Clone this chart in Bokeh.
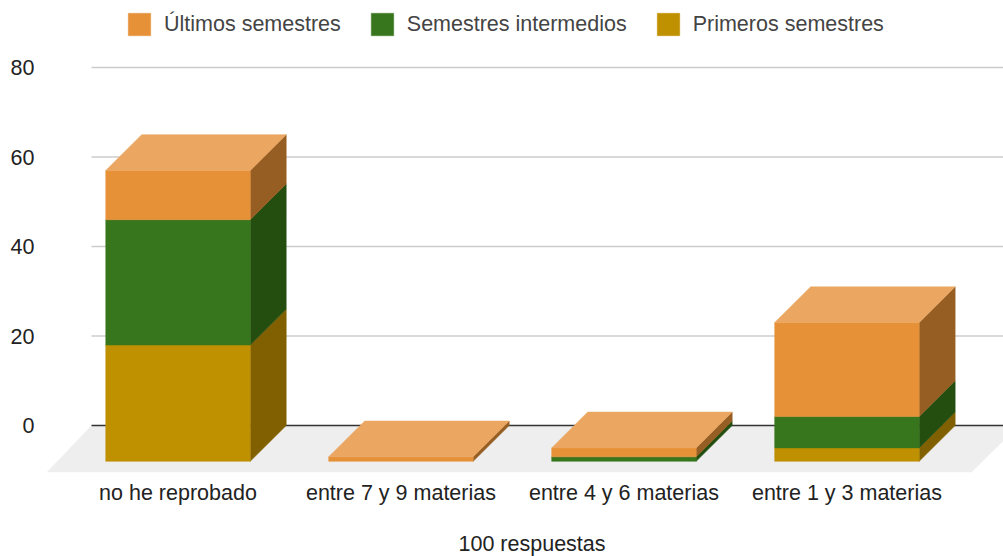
import numpy as np
from bokeh.embed import file_html
from bokeh.models import FixedTicker, Legend, LegendItem, Range1d, Title
from bokeh.plotting import figure
from bokeh.resources import INLINE

# --- data ---
categories = ["no he reprobado", "entre 7 y 9 materias", "entre 4 y 6 materias", "entre 1 y 3 materias"]
primeros = [26, 0, 0, 3]
intermedios = [28, 0, 1, 7]
ultimos = [11, 1, 2, 21]
y_ticks = [0, 20, 40, 60, 80]
total_label = "100 respuestas"

series = [
    ("Primeros semestres", primeros, "#BF9000", "#806000"),
    ("Semestres intermedios", intermedios, "#38761D", "#234E10"),
    ("Últimos semestres", ultimos, "#E69138", "#965E23"),
]

# --- style / geometry ---
FONT = "Liberation Sans"
BAR_W = 0.648
DEPTH_X = 0.1614      # category units
DEPTH_Y = 8.0         # value units
XMIN, XMAX = -0.6166, 3.7022
YMIN, YMAX = -10.5, 94.98

p = figure(width=1003, height=556, frame_width=963, frame_height=472,
           output_backend="svg", toolbar_location=None,
           x_range=Range1d(XMIN, XMAX), y_range=Range1d(YMIN, YMAX),
           min_border_left=40, min_border_right=0, min_border_top=0, min_border_bottom=0,
           outline_line_color=None, background_fill_color="white", border_fill_color="white")
p.grid.visible = False

# floor
back_l = XMIN + 51 / 223
front_l = XMIN + 6 / 223
front_r = XMIN + 931 / 223
p.patch([front_l, back_l, XMAX, XMAX, front_r], [YMIN, 0, 0, -3.4, YMIN],
        fill_color="#EEEEEE", line_color=None)

# gridlines
p.segment(x0=[back_l] * 4, x1=[XMAX] * 4, y0=y_ticks[1:], y1=y_ticks[1:], line_color="#CCCCCC", line_width=1.6)
p.segment(x0=[back_l], x1=[XMAX], y0=[0], y1=[0], line_color="#333333", line_width=1.6)

# stacked 3D bars
centers = np.arange(len(categories), dtype=float)
base = np.zeros(len(categories))
legend_items = {}
for name, vals, front, side in series:
    vals = np.array(vals, dtype=float)
    upper = base + vals
    keep = vals > 0
    cx, lo, hi = centers[keep], base[keep] - DEPTH_Y, upper[keep] - DEPTH_Y
    r = cx + BAR_W / 2
    side_xs = [[a, a + DEPTH_X, a + DEPTH_X, a] for a in r]
    side_ys = [[b, b + DEPTH_Y, t + DEPTH_Y, t] for b, t in zip(lo, hi)]
    p.patches(side_xs, side_ys, fill_color=side, line_color=side, line_width=0.5)
    rend = p.quad(left=cx - BAR_W / 2, right=r, bottom=lo, top=hi,
                  fill_color=front, line_color=front, line_width=0.5)
    legend_items[name] = rend
    base = upper

# top faces of stacks
for c, t in zip(centers, base):
    l, r = c - BAR_W / 2, c + BAR_W / 2
    p.patch([l, r, r + DEPTH_X, l + DEPTH_X], [t - DEPTH_Y, t - DEPTH_Y, t, t],
            fill_color="#EBA661", line_color="#EBA661", line_width=0.5)

# axes
p.yaxis.ticker = FixedTicker(ticks=y_ticks)
p.yaxis.axis_line_color = None
p.yaxis.major_tick_line_color = None
p.yaxis.minor_tick_line_color = None
p.yaxis.major_label_text_font = FONT
p.yaxis.major_label_text_font_size = "21.5px"
p.yaxis.major_label_text_color = "#222222"
p.yaxis.major_label_standoff = 0

p.xaxis.ticker = FixedTicker(ticks=list(range(len(categories))))
p.xaxis.major_label_overrides = {i: c for i, c in enumerate(categories)}
p.xaxis.axis_line_color = None
p.xaxis.major_tick_line_color = None
p.xaxis.minor_tick_line_color = None
p.xaxis.major_label_text_font = FONT
p.xaxis.major_label_text_font_size = "21.5px"
p.xaxis.major_label_text_color = "#222222"
p.xaxis.major_label_standoff = 2

# legend
legend = Legend(
    items=[LegendItem(label=n, renderers=[legend_items[n]]) for n in
           ["Últimos semestres", "Semestres intermedios", "Primeros semestres"]],
    orientation="horizontal", location=(85, 434), spacing=27, padding=0, margin=0,
    glyph_width=28, glyph_height=28, label_standoff=11,
    label_text_font=FONT, label_text_font_size="21.5px", label_text_color="#444444",
    border_line_color=None, background_fill_alpha=0,
)
p.add_layout(legend, "center")

p.add_layout(Title(text=total_label, align="left", offset=418, standoff=45,
                   text_font=FONT, text_font_size="21.5px", text_color="#222222",
                   text_font_style="normal"), "below")

open("out.html", "w").write(file_html(p, INLINE))
